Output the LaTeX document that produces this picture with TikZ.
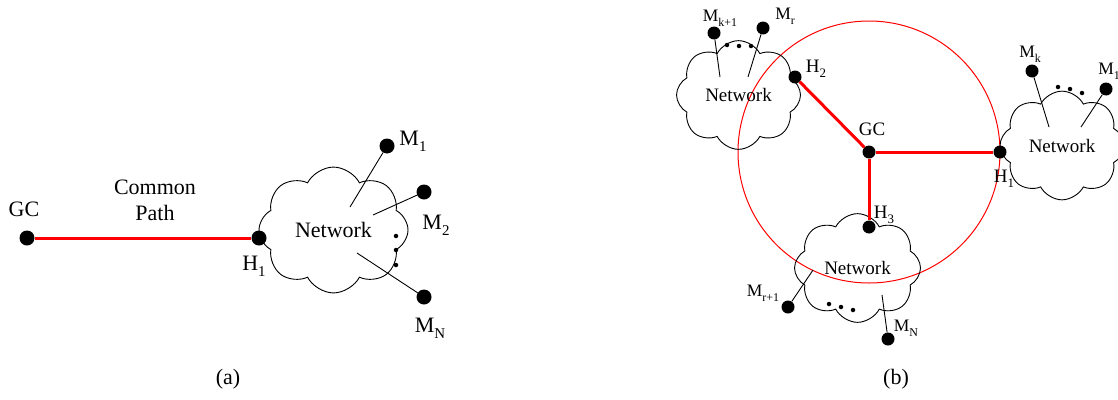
\documentclass[tikz,border=0pt]{standalone}
\usepackage{fontspec}
\setmainfont{Liberation Serif}
\usetikzlibrary{shapes.symbols}
\newcommand{\sbs}[1]{\raisebox{-0.28em}{\scalebox{0.68}{#1}}}
\tikzset{
  dotA/.style={circle,fill=black,minimum size=15pt,inner sep=0pt},
  dotB/.style={circle,fill=black,minimum size=13pt,inner sep=0pt},
  sdot/.style={circle,fill=black,minimum size=4.5pt,inner sep=0pt},
  netcloud/.style={cloud,draw,cloud puffs=8,cloud puff arc=125,inner sep=0pt,line width=0.9pt},
  netA/.style={netcloud,minimum width=149pt,minimum height=106pt,font=\fontsize{22}{26}\selectfont},
  netB/.style={netcloud,minimum width=124pt,minimum height=88pt,font=\fontsize{19}{22}\selectfont},
  redpath/.style={red,line width=3pt},
  wire/.style={line width=0.9pt},
  fa/.style={font=\fontsize{22}{26}\selectfont, inner sep=0pt},
  fb/.style={font=\fontsize{19}{22}\selectfont, inner sep=0pt},
  fm/.style={font=\fontsize{17.5}{20}\selectfont, inner sep=0pt},
}
\begin{document}
\begin{tikzpicture}[x=1pt,y=-1pt]
\useasboundingbox (0,0) rectangle (1118,399);
% ---------- (a) ----------
\node[netA] (cloudA) at (333.5,230) {Network};
\node[dotA] (gcA) at (27,238) {};
\node[dotA] (h1A) at (259,238) {};
\draw[redpath] (gcA) -- (h1A);
\node[dotA] (m1A) at (387,146) {};
\node[dotA] (m2A) at (424,192) {};
\node[dotA] (mnA) at (424,297) {};
\coordinate (a1) at (350,207);
\coordinate (a2) at (373,215);
\coordinate (a3) at (357,253);
\draw[wire] (a1) -- (m1A);
\draw[wire] (a2) -- (m2A);
\draw[wire] (a3) -- (mnA);
\node[sdot] (d1A) at (396,236) {};
\node[sdot] (d2A) at (396,250) {};
\node[sdot] (d3A) at (396,265) {};
\node[fa] (gcAl) at (24,209) {GC};
\node[fa,align=center] (cp) at (155,200) {Common\\Path};
\node[fa] (h1Al) at (254,266) {H\sbs{1}};
\node[fa] (m1Al) at (413,141) {M\sbs{1}};
\node[fa] (m2Al) at (436,225) {M\sbs{2}};
\node[fa] (mnAl) at (430,328) {M\sbs{N}};
\node[fa] (capA) at (228,379) {(a)};
% ---------- (b) ----------
\node[draw=red,line width=1pt,circle,minimum size=262pt,inner sep=0pt] (ring) at (869,152) {};
\node[netB] (c1) at (738.5,95) {Network};
\node[netB,minimum height=86pt] (c2) at (1062,145.5) {Network};
\node[netB,minimum width=126pt,minimum height=90pt] (c3) at (857.5,268) {Network};
\node[dotB] (gc) at (869,152) {};
\node[dotB] (h1) at (1000,152) {};
\node[dotB] (h2) at (795,77) {};
\node[dotB] (h3) at (869,227) {};
\draw[redpath] (gc) -- (h1);
\draw[redpath] (gc) -- (h2);
\draw[redpath] (gc) -- (h3);
\node[dotB] (mk1) at (714,33) {};
\node[dotB] (mr) at (763,28) {};
\node[dotB] (mk) at (1032,71) {};
\node[dotB] (m1) at (1106,89) {};
\node[dotB] (mr1) at (788,307) {};
\node[dotB] (mn) at (888,339) {};
\coordinate (b1) at (720,77);
\coordinate (b2) at (748,77);
\coordinate (b3) at (1049,127);
\coordinate (b4) at (1081,127);
\coordinate (b5) at (813,270);
\coordinate (b6) at (882,295);
\draw[wire] (b1) -- (mk1);
\draw[wire] (b2) -- (mr);
\draw[wire] (b3) -- (mk);
\draw[wire] (b4) -- (m1);
\draw[wire] (b5) -- (mr1);
\draw[wire] (b6) -- (mn);
\node[sdot] (e1) at (727,45) {};
\node[sdot] (e2) at (739,46) {};
\node[sdot] (e3) at (751,46) {};
\node[sdot] (e4) at (1058,87) {};
\node[sdot] (e5) at (1070,89) {};
\node[sdot] (e6) at (1082,93) {};
\node[sdot] (e7) at (829,304) {};
\node[sdot] (e8) at (841,307) {};
\node[sdot] (e9) at (853,310) {};
\node[fb] (gcl) at (872,129) {GC};
\node[fb] (h1l) at (1004,179) {H\sbs{1}};
\node[fb] (h2l) at (816,69) {H\sbs{2}};
\node[fb] (h3l) at (884,215) {H\sbs{3}};
\node[fm] (mk1l) at (720,18) {M\sbs{k+1}};
\node[fm] (mrl) at (785,16) {M\sbs{r}};
\node[fm] (mkl) at (1030,54) {M\sbs{k}};
\node[fm] (m1l) at (1109,71) {M\sbs{1}};
\node[fm] (mr1l) at (763,293) {M\sbs{r+1}};
\node[fm] (mnl) at (906,328) {M\sbs{N}};
\node[fa] (capB) at (896,379) {(b)};
\end{tikzpicture}
\end{document}
